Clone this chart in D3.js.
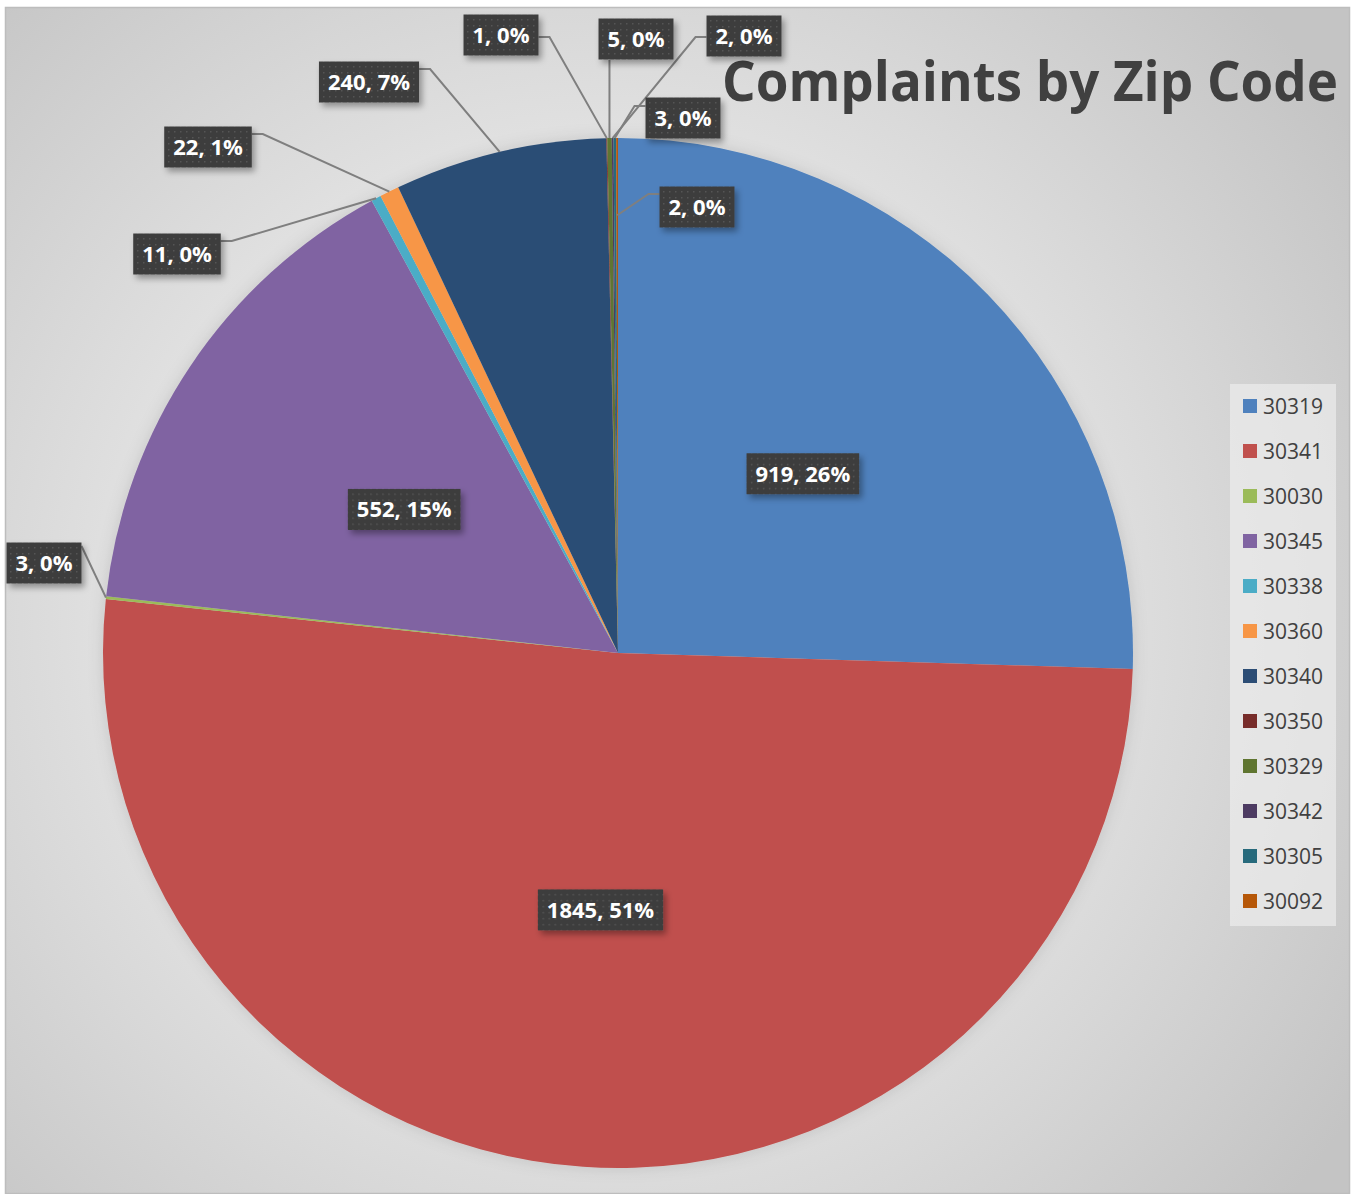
<!DOCTYPE html>
<html>
<head>
<meta charset="utf-8">
<script src="https://cdn.jsdelivr.net/npm/d3@7"></script>
<style>
  body { margin: 0; background: #fff; }
  svg text { font-family: "Open Sans", "DejaVu Sans", sans-serif; }
</style>
</head>
<body>
<div id="chart"></div>
<script>
// chart data
const zips = ['30319', '30341', '30030', '30345', '30338', '30360', '30340', '30350', '30329', '30342', '30305', '30092'];
const counts = [919, 1845, 3, 552, 11, 22, 240, 1, 5, 2, 3, 2];
const colors = ['#4F81BD', '#C0504D', '#9BBB59', '#8064A2', '#4BACC6', '#F79646',
                '#2C4D75', '#772C2A', '#5F7530', '#4D3B62', '#276A7C', '#B65708'];

// slices labelled inside at the centroid
const insideLabels = [0, 1, 3];
// callouts: slice index, box centre, side the leader leaves from, leader y, anchor radius fraction
const callouts = [
  { i: 2,  x: 44,  y: 563, side: 'r', ly: 546, elbow: 0,  rf: 1 },
  { i: 4,  x: 177, y: 254, side: 'r', ly: 241, elbow: 11, rf: 1 },
  { i: 5,  x: 208, y: 147, side: 'r', ly: 134, elbow: 11, rf: 1 },
  { i: 6,  x: 369, y: 82,  side: 'r', ly: 69,  elbow: 11, rf: 1 },
  { i: 7,  x: 501, y: 35,  side: 'r', ly: 37,  elbow: 11, rf: 1 },
  { i: 8,  x: 636, y: 39,  side: 'b', ly: 60,  elbow: 0,  rf: 1 },
  { i: 9,  x: 744, y: 36,  side: 'l', ly: 37,  elbow: 11, rf: 1 },
  { i: 10, x: 683, y: 118, side: 'l', ly: 106, elbow: 11, rf: 1 },
  { i: 11, x: 697, y: 207, side: 'l', ly: 194, elbow: 11, rf: 0.85 }
];

const width = 1355;
const height = 1194;
const cx = 618, cy = 653, radius = 515;
const total = d3.sum(counts);

// whole percentages that add up to 100 (largest remainder)
const raw = counts.map(v => v / total * 100);
const pct = raw.map(Math.floor);
let left = 100 - d3.sum(pct);
d3.range(counts.length)
  .sort((a, b) => (raw[b] - pct[b]) - (raw[a] - pct[a]))
  .slice(0, left)
  .forEach(i => { pct[i] += 1; });

const svg = d3.select('#chart').append('svg')
  .attr('width', width)
  .attr('height', height);

const defs = svg.append('defs');

const bg = defs.append('radialGradient')
  .attr('id', 'bg')
  .attr('gradientUnits', 'userSpaceOnUse')
  .attr('cx', 600).attr('cy', 620).attr('r', 900);
bg.append('stop').attr('offset', '0').attr('stop-color', '#f4f4f4');
bg.append('stop').attr('offset', '0.45').attr('stop-color', '#e6e6e6');
bg.append('stop').attr('offset', '1').attr('stop-color', '#c4c4c4');

const dots = defs.append('pattern')
  .attr('id', 'dots')
  .attr('patternUnits', 'userSpaceOnUse')
  .attr('width', 6).attr('height', 6);
dots.append('rect').attr('width', 6).attr('height', 6).attr('fill', '#3d3d3d');
dots.append('rect').attr('x', 2).attr('y', 2).attr('width', 1.5).attr('height', 1.5).attr('fill', '#555');

const shadow = defs.append('filter').attr('id', 'shadow')
  .attr('x', '-20%').attr('y', '-20%').attr('width', '140%').attr('height', '150%');
shadow.append('feDropShadow')
  .attr('dx', 3).attr('dy', 4).attr('stdDeviation', 3)
  .attr('flood-color', '#000').attr('flood-opacity', 0.35);

const pieShadow = defs.append('filter').attr('id', 'pieShadow')
  .attr('x', '-10%').attr('y', '-10%').attr('width', '120%').attr('height', '120%');
pieShadow.append('feDropShadow')
  .attr('dx', 0).attr('dy', 0).attr('stdDeviation', 8)
  .attr('flood-color', '#000').attr('flood-opacity', 0.12);

// background and frame
svg.append('rect')
  .attr('x', 5.5).attr('y', 7.5)
  .attr('width', 1344).attr('height', 1186)
  .attr('fill', 'url(#bg)')
  .attr('stroke', '#bdbdbd')
  .attr('stroke-width', 1.5);

// pie
const pie = d3.pie().sort(null).value(d => d)(counts);
const arc = d3.arc().innerRadius(0).outerRadius(radius);

const g = svg.append('g').attr('transform', `translate(${cx},${cy})`);

g.append('g')
  .attr('filter', 'url(#pieShadow)')
  .selectAll('path')
  .data(pie)
  .join('path')
  .attr('d', arc)
  .attr('fill', (d, i) => colors[i]);

// title
svg.append('text')
  .attr('x', 1338).attr('y', 101)
  .attr('text-anchor', 'end')
  .attr('font-size', 56)
  .attr('font-weight', 'bold')
  .attr('fill', '#404040')
  .attr('textLength', 616)
  .attr('lengthAdjust', 'spacingAndGlyphs')
  .text('Complaints by Zip Code');

function labelText(i) {
  return `${counts[i]}, ${pct[i]}%`;
}

// draws a dark label box centred at (x, y), returns its half width
function drawLabel(x, y, txt) {
  const lg = svg.append('g').attr('transform', `translate(${x},${y})`);
  const box = lg.append('rect').attr('fill', 'url(#dots)').attr('filter', 'url(#shadow)');
  const t = lg.append('text')
    .attr('text-anchor', 'middle')
    .attr('dy', '0.36em')
    .attr('font-size', 22)
    .attr('font-weight', 'bold')
    .attr('fill', '#fff')
    .text(txt);
  const w = t.node().getComputedTextLength() + 18;
  const h = 41;
  box.attr('x', -w / 2).attr('y', -h / 2).attr('width', w).attr('height', h);
  return w / 2;
}

// leader lines first so boxes sit above them
const leaders = svg.append('g');

insideLabels.forEach(i => {
  const [x, y] = arc.centroid(pie[i]);
  drawLabel(cx + x, cy + y, labelText(i));
});

callouts.forEach(c => {
  const d = pie[c.i];
  const mid = (d.startAngle + d.endAngle) / 2;
  const ax = cx + Math.sin(mid) * radius * c.rf;
  const ay = cy - Math.cos(mid) * radius * c.rf;
  const hw = drawLabel(c.x, c.y, labelText(c.i));
  let pts;
  if (c.side === 'b') {
    pts = [[ax, c.ly], [ax, ay]];
  } else {
    const ex = c.side === 'r' ? c.x + hw : c.x - hw;
    const elx = c.side === 'r' ? ex + c.elbow : ex - c.elbow;
    pts = [[ex, c.ly], [elx, c.ly], [ax, ay]];
  }
  leaders.append('path')
    .attr('d', d3.line()(pts))
    .attr('fill', 'none')
    .attr('stroke', '#7f7f7f')
    .attr('stroke-width', 2);
});

// legend
const lx = 1230, ly = 384, rowH = 45;
const legend = svg.append('g');
legend.append('rect')
  .attr('x', lx).attr('y', ly)
  .attr('width', 106).attr('height', rowH * zips.length + 2)
  .attr('fill', '#ececec')
  .attr('opacity', 0.7);

const rows = legend.selectAll('g.row')
  .data(zips)
  .join('g')
  .attr('class', 'row')
  .attr('transform', (d, i) => `translate(${lx + 13},${ly + 22 + i * rowH})`);

rows.append('rect')
  .attr('x', 0).attr('y', -7)
  .attr('width', 14).attr('height', 14)
  .attr('fill', (d, i) => colors[i]);

rows.append('text')
  .attr('x', 20)
  .attr('dy', '0.36em')
  .attr('font-size', 21)
  .attr('fill', '#404040')
  .text(d => d);
</script>
</body>
</html>
